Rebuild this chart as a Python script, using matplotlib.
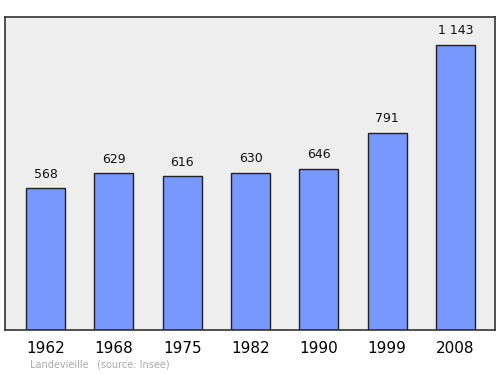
import matplotlib.pyplot as plt

years = ["1962", "1968", "1975", "1982", "1990", "1999", "2008"]
population = [568, 629, 616, 630, 646, 791, 1143]
value_labels = ["568", "629", "616", "630", "646", "791", "1 143"]

fig = plt.figure(figsize=(5.0, 3.74), dpi=100)
ax = fig.add_axes([0.01, 0.1176, 0.98, 0.8369])
ax.set_facecolor("#eeeeee")

x = range(len(years))
ax.bar(x, population, width=0.57, color="#7799ff", edgecolor="#222222", linewidth=1.0, zorder=2)
for i, (v, lab) in enumerate(zip(population, value_labels)):
    ax.annotate(lab, (i, v), xytext=(0, 5.5), textcoords="offset points",
                ha="center", va="bottom", fontsize=9, color="#111111")

ax.set_xlim(-0.593, 6.578)
ax.set_ylim(0, 1255)
ax.set_yticks([])
ax.set_xticks(list(x))
ax.set_xticklabels(years, fontsize=11)
ax.tick_params(axis="x", length=0, pad=8)
for s in ax.spines.values():
    s.set_color("#333333")
    s.set_linewidth(1.2)

fig.text(0.06, 0.012, "Landevieille", fontsize=7, color="#aaaaaa", va="bottom")
fig.text(0.194, 0.012, "(source: Insee)", fontsize=7, color="#aaaaaa", va="bottom")

fig.savefig("out.png", dpi=100)
